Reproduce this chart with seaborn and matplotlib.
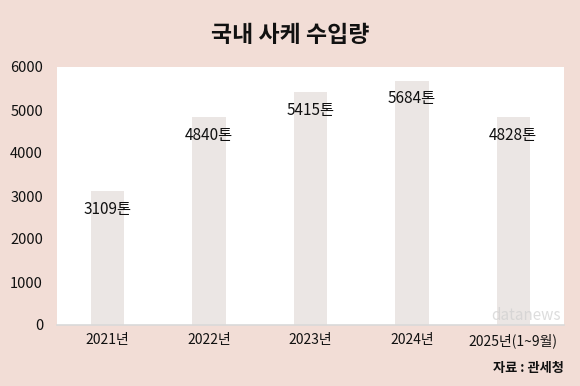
import matplotlib
matplotlib.use("Agg")
import matplotlib.pyplot as plt
import seaborn as sns
import pandas as pd

# 국내 사케 수입량 (톤)
years = ["2021년", "2022년", "2023년", "2024년", "2025년(1~9월)"]
volumes = [3109, 4840, 5415, 5684, 4828]
yticks = [0, 1000, 2000, 3000, 4000, 5000, 6000]

BG = "#f2ddd6"
BAR = "#ebe6e4"

sns.set_theme(style="white")
plt.rcParams["font.family"] = ["Noto Sans CJK KR", "DejaVu Sans"]

df = pd.DataFrame({"year": years, "volume": volumes})

fig = plt.figure(figsize=(5.8, 3.86), dpi=100, facecolor=BG)
ax = fig.add_axes([57 / 580, 1 - 325 / 386, 507 / 580, 258 / 386])
ax.set_facecolor("white")

sns.barplot(data=df, x="year", y="volume", color=BAR, width=0.33,
            saturation=1, ax=ax, edgecolor="none")

ax.set_ylim(0, 6000)
ax.set_xlim(-0.5, len(years) - 0.5)
ax.set_yticks(yticks)
ax.set_yticklabels([str(v) for v in yticks], fontsize=10.5, color="#111111",
                   fontweight="medium")
ax.tick_params(axis="y", length=0, pad=10)
ax.tick_params(axis="x", length=0, pad=6, labelsize=10, labelcolor="#111111")
for lbl in ax.get_xticklabels():
    lbl.set_fontweight("medium")
ax.set_xlabel("")
ax.set_ylabel("")

for s in ["top", "right", "left"]:
    ax.spines[s].set_visible(False)
ax.spines["bottom"].set_color("#d9d9d9")
ax.spines["bottom"].set_linewidth(1.2)

for i, v in enumerate(volumes):
    ax.annotate(f"{v}톤", xy=(i, v), xytext=(0, -7), textcoords="offset points",
                ha="center", va="top", fontsize=11, color="#111111",
                fontweight="medium")

fig.text(0.5, 1 - 36 / 386, "국내 사케 수입량", ha="center", va="center",
         fontsize=16.5, fontweight="bold", color="#111111")
fig.text(564 / 580, 1 - 368 / 386, "자료 : 관세청", ha="right", va="center",
         fontsize=9.5, fontweight="bold", color="#111111")

# faint watermark in the lower right of the plot area
fig.text(561 / 580, 1 - 315 / 386, "datanews", fontsize=11, color="#cfcfcf",
         alpha=0.7, ha="right", va="center")

fig.savefig("out.png", dpi=100, facecolor=BG)
